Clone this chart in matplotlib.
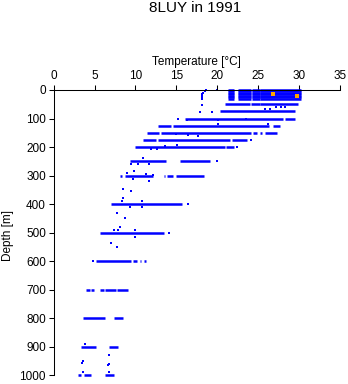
import matplotlib
matplotlib.use("Agg")
import matplotlib.pyplot as plt

plt.rcParams['font.family'] = ['Liberation Sans', 'DejaVu Sans']

title = "8LUY in 1991"
x_label = "Temperature [°C]"
y_label = "Depth [m]"
x_ticks = [0, 5, 10, 15, 20, 25, 30, 35]
y_ticks = [0, 100, 200, 300, 400, 500, 600, 700, 800, 900, 1000]

# dense surface block (0-30 m)
top_depths = [0, 5, 10, 15, 20, 25, 30]
top_tmin = [21.3, 22.5, 24.3, 25.3]
top_tmax = [22.1, 24.2, 25.2, 30.2]

# horizontal runs of densely packed observations at standard depths
seg_depth = [50, 50, 50,
             75,
             100, 100,
             125, 125, 125,
             150, 150, 150, 150, 150,
             175, 175, 175,
             200, 200,
             250, 250,
             300, 300, 300, 300, 300,
             400,
             500,
             600, 600, 600, 600,
             700, 700, 700, 700, 700,
             800, 800,
             900, 900,
             1000, 1000, 1000]
seg_tmin = [20.9, 24.1, 25.3,
            20.3,
            16.0, 28.3,
            12.7, 14.6, 26.8,
            11.4, 13.1, 24.4, 25.3, 25.9,
            10.9, 12.8, 21.8,
            10.0, 21.1,
            9.3, 15.5,
            8.1, 8.7, 13.5, 13.8, 15.0,
            7.0,
            5.7,
            5.2, 9.7, 10.5, 11.0,
            4.0, 4.6, 5.7, 6.3, 7.7,
            3.6, 7.4,
            3.3, 6.7,
            3.0, 3.75, 6.3]
seg_tmax = [24.0, 25.2, 29.9,
            29.5,
            28.1, 29.5,
            14.3, 26.4, 27.7,
            12.9, 24.2, 24.9, 25.5, 27.3,
            12.5, 21.6, 23.7,
            20.9, 22.1,
            13.7, 19.1,
            8.4, 12.1, 13.6, 14.6, 18.4,
            15.7,
            13.5,
            9.5, 10.2, 10.7, 11.3,
            4.4, 4.9, 6.1, 7.6, 9.1,
            6.3, 8.5,
            5.2, 7.9,
            3.35, 4.6, 7.35]

# isolated observations
pt_temp = [18.6, 18.5, 18.3, 18.2, 18.2, 18.2, 18.2, 20.0,
           18.1, 17.9, 19.4, 25.9, 26.5, 27.2, 27.8, 28.3,
           15.2, 16.3, 20.1, 23.5,
           20.1, 26.2,
           15.0, 16.4, 17.6,
           24.2,
           22.4, 11.85, 12.6, 13.6, 15.1,
           20.0, 10.9, 9.5, 10.3, 11.6,
           9.0, 9.8, 11.3, 12.1, 9.7, 11.6,
           8.5, 9.4,
           16.4, 8.3, 8.5, 10.8, 10.8, 9.3,
           7.7, 8.7, 8.05,
           14.1, 7.35, 7.8, 10.0, 9.9, 7.0, 7.7,
           4.8,
           3.8, 3.55, 3.5, 6.75, 6.6, 6.75, 3.6, 6.7]
pt_depth = [0, 3, 10, 15, 20, 25, 30, 0,
            51, 77, 77, 65, 65, 60, 60, 58,
            100, 104, 105, 103,
            120, 120,
            155, 158, 160,
            175,
            200, 208, 208, 196, 193,
            250, 240, 258, 258, 258,
            292, 285, 296, 297, 313, 318,
            347, 354,
            400, 390, 380, 390, 410, 410,
            432, 450, 479,
            500, 490, 490, 490, 515, 535, 551,
            600,
            890, 950, 958, 930, 965, 960, 990, 990]

# highlighted observations
hl_temp = [26.8, 29.8]
hl_depth = [13, 22]

fig = plt.figure(figsize=(3.48, 3.84), dpi=100)
ax = fig.add_axes([0.1546, 0.0227, 0.8216, 0.743])

blue = '#0000ff'
td, tmn, tmx = [], [], []
for d in top_depths:
    for a, b in zip(top_tmin, top_tmax):
        td.append(d); tmn.append(a); tmx.append(b)
ax.hlines(td, tmn, tmx, colors=blue, linewidth=1.8, clip_on=False)
ax.hlines(seg_depth, seg_tmin, seg_tmax, colors=blue, linewidth=1.8,
          clip_on=False)
ax.scatter(pt_temp, pt_depth, s=4, marker='s', color=blue, linewidths=0,
           clip_on=False)
ax.scatter(hl_temp, hl_depth, s=6, marker='s', color='#ffa500', linewidths=0,
           clip_on=False, zorder=3)

ax.set_xlim(0, 35)
ax.set_ylim(1000, 0)
ax.set_xticks(x_ticks)
ax.set_yticks(y_ticks)
ax.xaxis.tick_top()
ax.xaxis.set_label_position('top')
for s in ['right', 'bottom']:
    ax.spines[s].set_visible(False)
for s in ['top', 'left']:
    ax.spines[s].set_linewidth(0.75)
ax.tick_params(direction='out', length=3.6, width=0.75, labelsize=8.5,
               pad=2, colors='black')
ax.set_xlabel(x_label, fontsize=8.5, labelpad=4)
ax.set_ylabel(y_label, fontsize=8.5)
ax.yaxis.set_label_coords(-0.138, 0.49)
fig.text(0.562, 0.978, title, ha='center', va='center', fontsize=11)

fig.savefig('out.png', dpi=100)
